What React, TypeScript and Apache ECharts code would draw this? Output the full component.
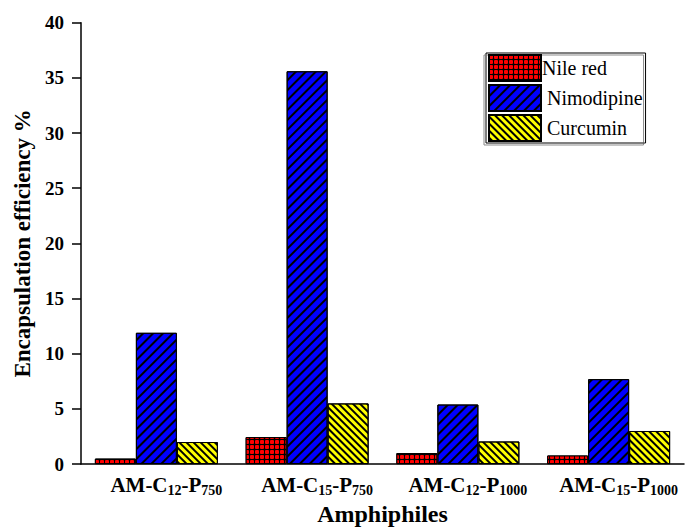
import React, { useEffect, useRef } from "react";
import * as echarts from "echarts";

const categories = [
  "AM-C{s|12}-P{s|750}",
  "AM-C{s|15}-P{s|750}",
  "AM-C{s|12}-P{s|1000}",
  "AM-C{s|15}-P{s|1000}",
];
const seriesNames = ["Nile red", "Nimodipine", "Curcumin"];
const nileRed = [0.5, 2.45, 1.0, 0.78];
const nimodipine = [11.9, 35.6, 5.4, 7.7];
const curcumin = [2.0, 5.5, 2.05, 3.0];
const yTicks = [0, 5, 10, 15, 20, 25, 30, 35, 40];

const FONT = "Liberation Serif";

export default function App() {
  const ref = useRef<HTMLDivElement>(null);
  useEffect(() => {
    if (!ref.current) return;
    const chart = echarts.init(ref.current, undefined, { renderer: "svg" });
    const border = { borderColor: "#000", borderWidth: 1 };
    chart.setOption({
      animation: false,
      textStyle: { fontFamily: FONT },
      grid: { left: 81, right: 1, top: 22.7, bottom: 58, containLabel: false },
      legend: {
        orient: "vertical",
        left: 486,
        top: 53,
        itemWidth: 52,
        itemHeight: 26,
        itemGap: 2,
        padding: [1, 3, 1, 2],
        borderColor: "#000",
        borderWidth: 1,
        shadowColor: "#8a8a8a",
        shadowOffsetX: -2,
        shadowOffsetY: 2,
        shadowBlur: 0,
        icon: "rect",
        data: seriesNames,
        formatter: (n: string) => (n === seriesNames[0] ? n : " " + n),
        textStyle: {
          fontFamily: FONT,
          fontSize: 20,
          color: "#000",
          padding: [0, 0, 0, -4],
        },
      },
      xAxis: {
        type: "category",
        data: categories,
        name: "Amphiphiles",
        nameLocation: "middle",
        nameGap: 30,
        nameTextStyle: { fontFamily: FONT, fontSize: 24, fontWeight: "bold", color: "#000" },
        axisLine: { lineStyle: { color: "#000", width: 1.5 } },
        axisTick: { alignWithLabel: true, length: 8, lineStyle: { color: "#000", width: 1.5 } },
        axisLabel: {
          interval: 0,
          margin: 10,
          color: "#000",
          fontFamily: FONT,
          fontSize: 21,
          fontWeight: "bold",
          lineHeight: 22,
          padding: [0, 0, 0, 20],
          rich: {
            s: {
              fontFamily: FONT,
              fontSize: 14,
              fontWeight: "bold",
              color: "#000",
              lineHeight: 14,
              padding: [10, 0, 0, 0],
            },
          },
        },
      },
      yAxis: {
        type: "value",
        min: yTicks[0],
        max: yTicks[yTicks.length - 1],
        interval: yTicks[1] - yTicks[0],
        name: "Encapsulation efficiency %",
        nameLocation: "middle",
        nameGap: 45,
        nameTextStyle: { fontFamily: FONT, fontSize: 23, fontWeight: "bold", color: "#000" },
        axisLine: { show: true, lineStyle: { color: "#000", width: 1.5 } },
        axisTick: { show: true, length: 9, lineStyle: { color: "#000", width: 1.5 } },
        splitLine: { show: false },
        axisLabel: {
          margin: 17,
          color: "#000",
          fontFamily: FONT,
          fontSize: 19,
          fontWeight: "bold",
        },
      },
      series: [
        {
          name: seriesNames[0],
          type: "bar",
          data: nileRed,
          barWidth: 41,
          barGap: "0%",
          itemStyle: {
            color: "#000",
            ...border,
            decal: {
              symbol: "roundRect",
              color: "#ff0000",
              dashArrayX: [4, 1],
              dashArrayY: [4, 1],
              symbolSize: 1,
              rotation: 0,
            },
          },
        },
        {
          name: seriesNames[1],
          type: "bar",
          data: nimodipine,
          barWidth: 41,
          barGap: "0%",
          itemStyle: {
            color: "#0000ff",
            ...border,
            decal: {
              symbol: "rect",
              color: "#000",
              dashArrayX: [1, 0],
              dashArrayY: [1.4, 4.3],
              symbolSize: 1,
              rotation: -Math.PI / 4,
            },
          },
        },
        {
          name: seriesNames[2],
          type: "bar",
          data: curcumin,
          barWidth: 41,
          barGap: "0%",
          itemStyle: {
            color: "#ffff00",
            ...border,
            decal: {
              symbol: "rect",
              color: "#000",
              dashArrayX: [1, 0],
              dashArrayY: [1.4, 2.2],
              symbolSize: 1,
              rotation: Math.PI / 4,
            },
          },
        },
      ],
    });
    return () => chart.dispose();
  }, []);
  return <div ref={ref} style={{ width: 685, height: 531, position: "absolute", left: 0, top: 0 }} />;
}
